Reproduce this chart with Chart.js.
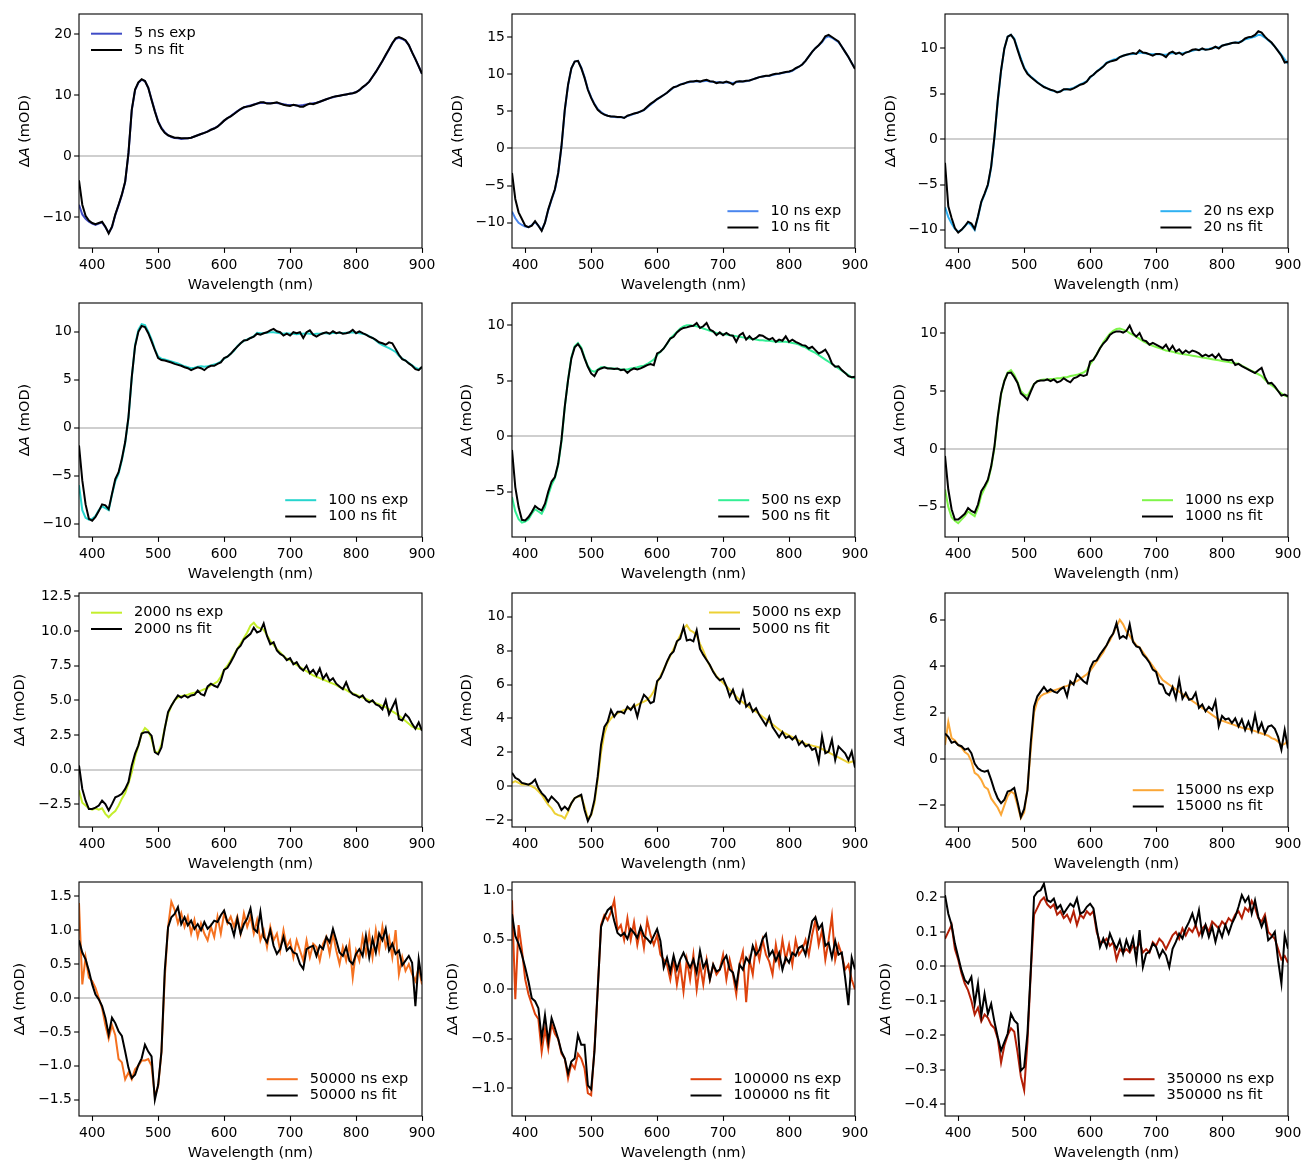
<!DOCTYPE html>
<html>
<head>
<meta charset="utf-8">
<title>Transient absorption spectra</title>
<script src="https://cdn.jsdelivr.net/npm/chart.js@4.4.1/dist/chart.umd.min.js"></script>
<style>
  body { margin: 0; background: #fff; }
  #fig { position: relative; width: 1305px; height: 1163px; overflow: hidden; }
  #fig canvas { position: absolute; }
</style>
</head>
<body>
<div id="fig"></div>
<script>
// Wavelength grid (nm), shared by every panel
const wavelengths = [
  380,385,390,395,400,405,410,415,420,425,
  430,435,440,445,450,455,460,465,470,475,
  480,485,490,495,500,505,510,515,520,525,
  530,535,540,545,550,555,560,565,570,575,
  580,585,590,595,600,605,610,615,620,625,
  630,635,640,645,650,655,660,665,670,675,
  680,685,690,695,700,705,710,715,720,725,
  730,735,740,745,750,755,760,765,770,775,
  780,785,790,795,800,805,810,815,820,825,
  830,835,840,845,850,855,860,865,870,875,
  880,885,890,895,900
];

// Delay times (ns)
const delays = ['5', '10', '20', '100', '500', '1000', '2000', '5000', '15000', '50000', '100000', '350000'];

// ΔA (mOD) values, exp = measured, fit = model
const exp5 = [
  -8.0,-9.6,-10.3,-10.8,-11.1,-11.3,-11.1,-10.9,-11.7,-12.6,
  -11.7,-9.7,-8.1,-6.4,-4.3,0.4,7.5,10.8,12.0,12.5,
  12.3,11.2,9.3,7.4,5.7,4.6,3.9,3.4,3.1,2.95,
  2.9,2.8,2.85,2.9,3.0,3.2,3.4,3.6,3.8,4.05,
  4.3,4.55,4.85,5.3,5.8,6.2,6.55,6.95,7.35,7.7,
  7.95,8.15,8.3,8.45,8.6,8.7,8.75,8.7,8.65,8.7,
  8.7,8.6,8.5,8.4,8.35,8.35,8.3,8.3,8.35,8.45,
  8.55,8.65,8.75,8.9,9.1,9.3,9.5,9.65,9.8,9.9,
  10.0,10.1,10.2,10.3,10.5,10.8,11.25,11.7,12.2,13.0,
  13.8,14.7,15.6,16.5,17.5,18.5,19.2,19.4,19.2,18.9,
  18.2,17.0,15.9,14.7,13.5
];
const fit5 = [
  -4.0,-8.0,-9.8,-10.6,-11.0,-11.2,-11.0,-10.8,-11.6,-12.7,
  -11.6,-9.6,-8.0,-6.3,-4.2,0.5,7.6,10.9,12.1,12.6,
  12.3,11.2,9.2,7.3,5.6,4.5,3.8,3.4,3.2,3.0,
  3.0,2.9,2.9,2.9,3.0,3.2,3.4,3.6,3.8,4.0,
  4.3,4.5,4.8,5.3,5.8,6.2,6.5,6.9,7.3,7.7,
  8.0,8.1,8.2,8.4,8.6,8.8,8.8,8.6,8.6,8.7,
  8.8,8.6,8.4,8.3,8.2,8.4,8.3,8.1,8.1,8.4,
  8.6,8.5,8.7,8.9,9.1,9.3,9.5,9.7,9.8,9.9,
  10.0,10.1,10.2,10.3,10.45,10.8,11.3,11.7,12.2,13.0,
  13.8,14.7,15.6,16.6,17.5,18.5,19.3,19.5,19.3,19.0,
  18.2,17.0,15.9,14.7,13.5
];
const exp10 = [
  -8.5,-9.4,-10.0,-10.3,-10.5,-10.6,-10.3,-9.9,-10.4,-11.0,
  -10.0,-8.3,-6.9,-5.6,-3.4,0.2,5.1,8.5,10.8,11.7,
  11.8,10.9,9.6,8.0,6.9,6.0,5.3,4.9,4.6,4.4,
  4.3,4.25,4.2,4.2,4.15,4.35,4.5,4.65,4.8,4.95,
  5.15,5.5,5.9,6.25,6.6,6.9,7.2,7.5,7.85,8.2,
  8.4,8.6,8.75,8.85,8.95,9.0,9.05,9.0,9.05,9.1,
  9.0,8.95,8.9,8.9,8.85,8.9,8.85,8.8,8.9,9.0,
  9.0,9.05,9.15,9.3,9.45,9.6,9.7,9.75,9.8,9.9,
  10.0,10.05,10.15,10.25,10.3,10.45,10.75,11.0,11.3,11.8,
  12.4,13.0,13.5,13.9,14.3,14.9,15.1,14.9,14.6,14.3,
  13.7,13.0,12.3,11.5,10.8
];
const fit10 = [
  -3.3,-6.8,-8.6,-9.5,-10.4,-10.6,-10.4,-9.8,-10.4,-11.1,
  -10.0,-8.2,-6.8,-5.5,-3.3,0.3,5.2,8.6,10.8,11.7,
  11.8,10.8,9.5,7.9,6.8,5.9,5.2,4.8,4.55,4.4,
  4.3,4.3,4.25,4.25,4.1,4.4,4.55,4.7,4.8,5.0,
  5.2,5.6,6.0,6.3,6.65,6.9,7.2,7.5,7.9,8.25,
  8.35,8.6,8.7,8.9,9.0,9.0,9.1,9.0,9.15,9.25,
  9.05,9.0,8.8,8.9,8.85,9.0,8.85,8.6,9.0,9.05,
  9.0,9.1,9.15,9.3,9.45,9.6,9.7,9.8,9.8,9.95,
  10.05,10.1,10.2,10.3,10.35,10.5,10.8,11.0,11.3,11.8,
  12.4,13.0,13.5,13.9,14.4,15.1,15.3,15.0,14.7,14.4,
  13.7,13.0,12.3,11.5,10.7
];
const exp20 = [
  -7.5,-8.6,-9.3,-9.9,-10.2,-10.0,-9.6,-9.2,-9.5,-10.0,
  -8.6,-7.0,-6.1,-5.1,-3.1,0.2,4.2,7.5,10.0,11.3,
  11.5,11.1,10.0,8.9,7.9,7.3,6.9,6.6,6.3,6.0,
  5.8,5.6,5.4,5.3,5.2,5.3,5.45,5.5,5.55,5.65,
  5.85,6.05,6.2,6.4,6.8,7.1,7.45,7.75,8.05,8.45,
  8.6,8.75,8.85,9.05,9.2,9.3,9.35,9.4,9.45,9.55,
  9.5,9.45,9.4,9.35,9.4,9.35,9.3,9.3,9.4,9.5,
  9.45,9.5,9.45,9.55,9.65,9.75,9.85,9.85,9.95,9.9,
  9.95,10.05,10.1,10.1,10.3,10.4,10.5,10.6,10.65,10.7,
  10.8,11.0,11.1,11.2,11.3,11.5,11.45,11.2,10.9,10.6,
  10.2,9.75,9.3,8.8,8.3
];
const fit20 = [
  -2.6,-7.4,-8.7,-9.8,-10.3,-10.0,-9.6,-9.1,-9.3,-9.9,
  -8.5,-6.9,-6.0,-5.0,-3.0,0.3,4.3,7.6,10.0,11.3,
  11.5,11.0,9.85,8.75,7.8,7.2,6.85,6.55,6.25,6.0,
  5.75,5.6,5.45,5.35,5.15,5.25,5.5,5.5,5.45,5.6,
  5.8,6.0,6.1,6.35,6.85,7.1,7.45,7.7,8.0,8.4,
  8.55,8.65,8.75,9.05,9.2,9.3,9.4,9.5,9.4,9.8,
  9.55,9.5,9.35,9.2,9.4,9.4,9.3,9.05,9.5,9.65,
  9.4,9.55,9.3,9.55,9.65,9.85,9.9,9.8,10.0,9.85,
  9.9,10.0,10.2,10.0,10.3,10.4,10.5,10.6,10.65,10.6,
  10.8,11.1,11.25,11.3,11.5,11.9,11.75,11.3,10.95,10.65,
  10.2,9.7,9.2,8.45,8.55
];
const exp100 = [
  -6.0,-8.6,-9.4,-9.6,-9.5,-9.2,-8.6,-8.2,-8.4,-8.6,
  -7.0,-5.6,-4.8,-3.4,-1.6,1.0,5.2,8.6,10.2,10.8,
  10.7,10.0,9.2,8.2,7.4,7.2,7.1,7.0,6.9,6.8,
  6.7,6.55,6.4,6.3,6.2,6.25,6.35,6.4,6.35,6.4,
  6.5,6.6,6.7,6.9,7.2,7.4,7.7,8.0,8.5,8.8,
  9.05,9.2,9.35,9.55,9.9,9.85,9.85,9.9,9.95,9.95,
  9.9,9.85,9.8,9.85,9.8,9.8,9.75,9.8,9.8,9.85,
  9.8,9.75,9.8,9.8,9.85,9.85,9.8,9.9,9.85,9.9,
  9.85,9.9,9.9,9.95,9.9,9.85,9.8,9.7,9.55,9.35,
  9.1,8.8,8.6,8.45,8.3,8.1,7.9,7.5,7.2,7.0,
  6.75,6.5,6.25,6.1,6.3
];
const fit100 = [
  -1.85,-5.5,-8.0,-9.5,-9.7,-9.3,-8.7,-8.0,-8.1,-8.5,
  -6.9,-5.35,-4.65,-3.25,-1.5,1.1,5.3,8.5,10.0,10.6,
  10.5,9.85,9.0,8.1,7.25,7.05,7.0,6.9,6.8,6.65,
  6.55,6.45,6.3,6.2,6.0,6.15,6.3,6.2,6.0,6.3,
  6.45,6.45,6.65,6.8,7.25,7.4,7.7,8.1,8.45,8.8,
  9.1,9.15,9.35,9.5,9.8,9.7,9.85,9.95,10.15,10.3,
  10.05,9.95,9.6,9.8,9.6,9.95,9.85,9.95,9.35,9.95,
  10.15,9.7,9.5,9.7,9.85,9.95,9.8,10.05,9.85,9.95,
  9.8,9.85,9.95,10.2,9.85,10.05,9.85,9.7,9.5,9.35,
  9.15,8.9,8.8,8.65,8.9,8.8,8.2,7.6,7.15,7.0,
  6.7,6.45,6.1,6.0,6.35
];
const exp500 = [
  -5.5,-6.8,-7.5,-7.8,-7.7,-7.5,-7.0,-6.6,-6.8,-7.0,
  -6.4,-5.3,-4.4,-3.8,-2.6,-0.5,2.6,5.1,7.1,8.1,
  8.4,8.0,7.1,6.3,5.9,5.8,6.0,6.2,6.2,6.15,
  6.1,6.1,6.05,6.0,6.0,6.0,6.1,6.15,6.2,6.3,
  6.35,6.5,6.7,6.9,7.3,7.6,7.9,8.3,8.8,9.1,
  9.4,9.7,9.9,10.0,10.0,9.95,9.9,9.8,9.7,9.6,
  9.5,9.4,9.3,9.25,9.2,9.15,9.1,9.05,9.0,8.95,
  8.9,8.85,8.8,8.75,8.7,8.65,8.65,8.6,8.6,8.55,
  8.5,8.5,8.5,8.5,8.45,8.4,8.35,8.25,8.1,8.0,
  7.8,7.65,7.5,7.3,7.1,6.9,6.7,6.5,6.3,6.1,
  5.9,5.7,5.5,5.3,5.2
];
const fit500 = [
  -1.25,-4.6,-6.4,-7.55,-7.6,-7.3,-6.85,-6.3,-6.55,-6.7,
  -6.1,-5.0,-4.1,-3.7,-2.5,-0.35,2.65,5.05,7.0,8.0,
  8.3,7.85,7.0,6.25,5.65,5.4,5.95,6.1,6.2,6.1,
  6.1,6.05,6.1,5.95,6.0,5.7,5.95,6.1,6.0,6.1,
  6.25,6.4,6.5,6.4,7.45,7.6,7.9,8.35,8.8,8.95,
  9.35,9.6,9.75,9.8,9.9,9.95,10.2,9.75,9.9,10.2,
  9.6,9.45,9.1,9.35,9.1,9.3,9.1,9.05,8.5,9.1,
  9.3,8.7,9.0,8.7,8.85,9.1,9.05,8.85,8.7,8.85,
  8.5,8.7,8.6,9.0,8.5,8.7,8.5,8.35,8.2,8.15,
  7.9,8.05,7.75,7.45,7.6,7.8,7.3,6.55,6.25,6.3,
  5.95,5.7,5.4,5.3,5.35
];
const exp1000 = [
  -3.5,-5.0,-5.9,-6.2,-6.4,-6.1,-5.8,-5.4,-5.6,-5.8,
  -5.1,-4.0,-3.4,-2.8,-1.6,0.1,2.7,4.7,5.9,6.6,
  6.8,6.4,5.8,5.0,4.7,4.6,5.1,5.6,5.85,5.95,
  6.0,6.0,6.05,6.05,6.1,6.1,6.2,6.2,6.3,6.35,
  6.4,6.5,6.6,6.8,7.3,7.7,8.2,8.7,9.2,9.6,
  9.95,10.2,10.35,10.4,10.3,10.2,10.0,9.85,9.7,9.5,
  9.3,9.15,9.0,8.9,8.8,8.7,8.6,8.5,8.45,8.4,
  8.3,8.25,8.2,8.15,8.1,8.05,8.0,7.95,7.9,7.85,
  7.8,7.75,7.7,7.65,7.6,7.55,7.5,7.45,7.4,7.35,
  7.2,7.05,6.9,6.75,6.6,6.45,6.3,6.0,5.7,5.5,
  5.3,5.0,4.8,4.6,4.5
];
const fit1000 = [
  -0.6,-3.5,-5.2,-6.1,-6.1,-5.85,-5.6,-5.1,-5.35,-5.5,
  -4.8,-3.65,-3.2,-2.65,-1.5,0.25,2.8,4.8,5.85,6.55,
  6.6,6.2,5.7,4.8,4.55,4.25,4.95,5.6,5.85,5.9,
  5.9,6.0,5.85,6.0,5.75,5.85,6.1,5.9,5.75,6.1,
  6.2,6.4,6.3,6.4,7.55,7.7,8.15,8.7,9.1,9.4,
  9.85,10.05,10.15,10.15,10.05,10.2,10.65,10.0,9.7,10.0,
  9.4,9.3,9.0,9.15,9.0,8.85,8.7,9.0,8.5,8.9,
  8.4,8.6,8.25,8.5,8.3,8.5,8.4,8.25,8.0,8.15,
  8.0,8.15,7.85,8.2,7.75,7.7,7.65,7.7,7.25,7.35,
  7.15,7.0,6.85,6.7,6.55,6.8,7.0,6.2,5.65,5.7,
  5.4,5.0,4.6,4.7,4.55
];
const exp2000 = [
  -1.5,-2.4,-2.6,-2.8,-2.9,-2.8,-2.9,-2.8,-3.2,-3.45,
  -3.2,-3.0,-2.6,-2.1,-1.7,-1.0,-0.2,0.9,1.7,2.6,
  3.0,2.8,2.2,1.3,1.2,1.8,3.0,4.0,4.6,5.0,
  5.2,5.3,5.35,5.4,5.5,5.55,5.6,5.7,5.8,5.9,
  6.1,6.2,6.35,6.7,7.2,7.5,7.9,8.3,8.7,9.1,
  9.5,9.9,10.4,10.6,10.3,10.2,10.1,9.7,9.3,9.0,
  8.7,8.45,8.2,8.0,7.9,7.7,7.55,7.4,7.25,7.1,
  6.95,6.8,6.7,6.6,6.5,6.4,6.3,6.2,6.1,5.95,
  5.85,5.75,5.6,5.5,5.4,5.3,5.2,5.1,5.0,4.9,
  4.8,4.7,4.6,4.5,4.35,4.2,4.05,3.9,3.7,3.5,
  3.3,3.1,3.0,2.95,2.9
];
const fit2000 = [
  0.3,-1.4,-2.25,-2.85,-2.85,-2.75,-2.6,-2.25,-2.5,-2.95,
  -2.5,-2.0,-1.9,-1.75,-1.4,-0.9,0.3,1.15,1.75,2.6,
  2.7,2.7,2.45,1.25,1.1,1.6,2.95,4.15,4.6,5.0,
  5.35,5.2,5.35,5.2,5.35,5.4,5.7,5.45,5.35,6.0,
  6.2,6.05,5.95,6.4,7.2,7.35,7.75,8.2,8.7,8.95,
  9.4,9.6,9.8,10.25,9.9,10.0,10.55,9.65,9.05,9.2,
  8.6,8.35,8.2,7.9,8.05,7.6,7.75,7.35,7.15,7.5,
  6.95,7.2,6.8,7.3,6.55,6.9,6.4,6.6,6.2,6.0,
  5.8,6.3,5.7,5.45,5.35,5.2,5.35,5.0,4.85,5.0,
  4.7,4.6,4.35,5.0,4.0,4.5,5.0,3.65,3.55,4.0,
  3.75,3.3,2.95,3.4,2.8
];
const exp5000 = [
  0.2,0.3,0.2,0.1,0.1,0.1,0.0,-0.1,-0.3,-0.5,
  -0.8,-1.1,-1.3,-1.6,-1.7,-1.75,-1.9,-1.5,-1.0,-0.7,
  -0.6,-0.6,-1.2,-1.9,-1.7,-1.0,0.4,2.0,3.1,3.7,
  4.0,4.2,4.3,4.4,4.5,4.55,4.6,4.7,4.8,4.9,
  5.0,5.1,5.3,5.6,6.1,6.5,6.9,7.3,7.7,8.1,
  8.5,8.9,9.3,9.5,9.2,9.1,8.9,8.4,8.0,7.5,
  7.1,6.8,6.5,6.3,6.1,5.9,5.7,5.5,5.3,5.1,
  4.95,4.8,4.65,4.5,4.4,4.25,4.1,3.95,3.8,3.65,
  3.5,3.35,3.2,3.1,3.0,2.9,2.8,2.7,2.6,2.5,
  2.45,2.4,2.35,2.3,2.2,2.1,2.0,1.9,1.8,1.7,
  1.6,1.5,1.4,1.45,1.5
];
const fit5000 = [
  0.8,0.5,0.4,0.2,0.15,0.1,0.2,0.4,-0.1,-0.4,
  -0.6,-0.9,-0.6,-0.8,-1.0,-1.4,-1.2,-1.4,-1.0,-0.7,
  -0.6,-0.5,-1.4,-2.05,-1.65,-0.8,0.6,2.45,3.5,3.8,
  4.5,4.1,4.4,4.4,4.3,4.7,4.5,4.8,4.1,4.9,
  5.4,5.2,4.9,5.0,6.2,6.4,6.85,7.35,7.75,7.95,
  8.55,8.7,9.4,8.6,8.65,8.55,9.2,8.1,7.75,7.45,
  7.15,6.75,6.45,6.25,6.35,5.9,5.3,5.7,5.1,4.9,
  5.6,4.7,4.9,4.4,4.6,4.2,3.9,3.6,4.1,3.5,
  3.2,2.9,3.2,2.85,2.95,2.75,2.95,2.45,2.65,2.35,
  2.45,2.15,2.25,1.45,2.95,1.95,2.05,2.75,1.55,2.35,
  2.15,1.95,1.55,2.05,1.1
];
const exp15000 = [
  0.6,1.6,0.9,0.8,0.6,0.5,0.3,0.2,-0.1,-0.6,
  -0.7,-0.9,-1.2,-1.3,-1.7,-1.9,-2.1,-2.4,-2.0,-1.6,
  -1.4,-1.5,-2.0,-2.55,-2.3,-1.3,0.4,2.0,2.5,2.7,
  2.8,2.85,2.9,2.95,3.0,3.05,3.1,3.15,3.2,3.3,
  3.35,3.45,3.55,3.65,3.8,4.0,4.2,4.4,4.6,4.9,
  5.1,5.4,5.7,6.0,5.8,5.5,5.3,5.1,4.9,4.8,
  4.6,4.4,4.2,4.0,3.8,3.6,3.4,3.3,3.2,3.1,
  3.0,2.9,2.8,2.7,2.6,2.5,2.4,2.3,2.2,2.1,
  2.0,1.9,1.8,1.7,1.65,1.6,1.55,1.5,1.45,1.4,
  1.35,1.3,1.3,1.25,1.2,1.15,1.1,1.05,1.0,0.9,
  0.85,0.75,0.6,0.65,0.8
];
const fit15000 = [
  1.1,0.95,0.7,0.75,0.6,0.55,0.4,0.45,0.25,-0.2,
  -0.4,-0.5,-0.55,-0.5,-0.9,-1.35,-1.7,-1.9,-1.75,-1.4,
  -1.35,-1.25,-1.85,-2.5,-2.15,-1.35,0.7,2.25,2.7,2.9,
  3.1,2.9,3.0,2.9,2.85,3.0,3.1,2.7,3.35,3.2,
  3.65,3.5,3.35,3.25,3.9,4.2,4.25,4.5,4.7,4.9,
  5.2,5.4,5.85,5.2,5.3,5.2,5.8,5.05,4.85,4.8,
  4.5,4.35,4.15,3.85,3.75,3.25,3.2,2.85,2.75,3.1,
  2.6,3.4,2.6,2.85,2.55,2.6,2.85,2.2,2.35,2.05,
  2.25,2.1,2.5,1.4,1.85,1.7,1.75,1.55,1.75,1.4,
  1.7,1.25,1.6,1.2,1.9,1.2,1.55,1.1,1.4,1.45,
  1.3,0.95,0.4,1.25,0.45
];
const exp50000 = [
  1.4,0.2,0.6,0.3,0.25,0.15,0.0,-0.15,-0.4,-0.6,
  -0.4,-0.55,-0.9,-0.95,-1.2,-1.1,-1.2,-1.05,-1.0,-0.92,
  -0.92,-0.9,-1.0,-1.45,-1.3,-0.8,0.3,1.05,1.42,1.3,
  1.1,1.25,1.05,1.2,0.95,1.15,0.9,1.1,0.95,0.85,
  1.05,0.9,1.2,0.95,1.25,1.1,1.2,1.05,1.2,0.95,
  1.25,1.05,1.2,0.95,1.15,0.85,1.0,0.75,1.05,0.85,
  0.95,0.7,1.0,0.75,0.85,0.6,0.85,0.7,0.55,0.85,
  0.6,0.8,0.75,0.55,0.8,0.9,0.65,0.95,0.7,0.5,
  0.75,0.55,0.8,0.3,0.7,0.55,0.9,0.65,0.95,0.6,
  1.0,0.7,1.05,0.75,0.9,0.6,1.0,0.35,0.6,0.4,
  0.5,0.35,0.25,0.45,0.2
];
const fit50000 = [
  0.85,0.67,0.57,0.4,0.2,0.05,-0.02,-0.12,-0.29,-0.54,
  -0.29,-0.37,-0.49,-0.56,-0.79,-1.03,-1.18,-1.13,-0.99,-0.89,
  -0.69,-0.79,-0.86,-1.5,-1.28,-0.79,0.4,1.04,1.19,1.24,
  1.34,1.09,1.19,1.07,1.14,1.02,1.09,1.0,1.12,1.02,
  1.07,1.14,1.12,1.22,1.29,1.12,1.09,0.92,1.17,0.95,
  1.09,1.17,1.32,1.02,0.97,1.27,0.9,0.82,1.0,0.77,
  0.65,0.72,0.9,0.7,0.75,0.67,0.65,0.5,0.43,0.72,
  0.75,0.77,0.62,0.77,0.72,0.9,0.82,1.02,0.85,0.67,
  0.62,0.75,0.55,0.5,0.65,0.72,0.62,0.92,0.6,0.87,
  0.67,0.95,0.85,1.02,0.7,0.8,0.65,0.7,0.48,0.55,
  0.62,0.52,-0.12,0.57,0.25
];
const exp100000 = [
  0.9,-0.1,0.65,0.4,0.1,-0.05,-0.15,-0.25,-0.3,-0.63,
  -0.4,-0.6,-0.35,-0.45,-0.5,-0.65,-0.7,-0.9,-0.75,-0.8,
  -0.65,-0.7,-0.8,-1.05,-1.07,-0.6,0.0,0.65,0.75,0.7,
  0.78,0.9,0.6,0.65,0.5,0.72,0.5,0.68,0.45,0.62,
  0.42,0.7,0.55,0.45,0.55,0.35,0.3,0.25,0.1,0.3,
  0.05,0.25,-0.02,0.3,0.1,0.35,0.0,0.25,0.05,0.3,
  0.1,0.25,0.15,0.2,0.35,0.1,0.3,0.15,-0.05,0.25,
  0.38,-0.13,0.3,0.15,0.45,0.3,0.5,0.35,0.28,0.15,
  0.45,0.25,0.5,0.3,0.45,0.25,0.5,0.35,0.4,0.5,
  0.35,0.55,0.7,0.45,0.6,0.3,0.5,0.74,0.3,0.45,
  0.35,0.2,0.25,0.1,0.0
];
const fit100000 = [
  0.76,0.54,0.46,0.35,0.22,0.08,-0.09,-0.12,-0.19,-0.5,
  -0.26,-0.53,-0.29,-0.39,-0.5,-0.63,-0.7,-0.85,-0.73,-0.7,
  -0.46,-0.56,-0.56,-0.97,-1.01,-0.63,0.01,0.63,0.73,0.8,
  0.83,0.69,0.57,0.54,0.57,0.51,0.61,0.57,0.52,0.63,
  0.54,0.51,0.47,0.54,0.61,0.49,0.22,0.32,0.18,0.34,
  0.2,0.3,0.37,0.29,0.22,0.3,0.17,0.39,0.22,0.29,
  0.1,0.25,0.18,0.2,0.29,0.34,0.2,0.17,0.03,0.25,
  0.2,0.32,0.27,0.44,0.35,0.4,0.51,0.56,0.34,0.39,
  0.29,0.37,0.2,0.32,0.27,0.37,0.34,0.42,0.44,0.35,
  0.52,0.69,0.73,0.61,0.66,0.44,0.47,0.32,0.49,0.35,
  0.37,0.12,-0.16,0.32,0.2
];
const exp350000 = [
  0.08,0.1,0.12,0.05,0.02,-0.02,-0.05,-0.07,-0.1,-0.14,
  -0.12,-0.16,-0.14,-0.15,-0.17,-0.18,-0.21,-0.28,-0.23,-0.2,
  -0.18,-0.19,-0.25,-0.32,-0.36,-0.22,-0.02,0.15,0.17,0.19,
  0.2,0.18,0.17,0.18,0.15,0.16,0.14,0.15,0.13,0.16,
  0.12,0.15,0.14,0.16,0.15,0.16,0.1,0.07,0.07,0.08,
  0.06,0.07,0.02,0.05,0.04,0.05,0.04,0.06,0.05,0.07,
  0.04,0.05,0.04,0.07,0.06,0.08,0.07,0.05,0.07,0.09,
  0.1,0.08,0.11,0.09,0.11,0.1,0.12,0.09,0.11,0.12,
  0.1,0.13,0.12,0.11,0.13,0.12,0.14,0.13,0.15,0.16,
  0.14,0.17,0.16,0.19,0.17,0.14,0.13,0.15,0.1,0.09,
  0.08,0.05,0.02,0.03,0.01
];
const fit350000 = [
  0.207,0.153,0.12,0.066,0.027,-0.012,-0.04,-0.05,-0.031,-0.109,
  -0.05,-0.143,-0.08,-0.138,-0.109,-0.162,-0.206,-0.245,-0.22,-0.196,
  -0.138,-0.157,-0.167,-0.303,-0.293,-0.196,-0.012,0.202,0.216,0.221,
  0.24,0.192,0.187,0.197,0.168,0.178,0.153,0.168,0.182,0.173,
  0.197,0.153,0.158,0.173,0.182,0.168,0.11,0.056,0.081,0.056,
  0.095,0.071,0.051,0.076,0.037,0.076,0.047,0.081,0.017,0.105,
  -0.002,0.037,0.042,0.066,0.056,0.027,0.047,0.032,-0.002,0.051,
  0.071,0.095,0.081,0.11,0.129,0.153,0.12,0.163,0.09,0.12,
  0.085,0.115,0.071,0.11,0.085,0.12,0.095,0.124,0.144,0.173,
  0.207,0.187,0.202,0.153,0.192,0.144,0.115,0.139,0.076,0.085,
  0.1,0.017,-0.05,0.09,0.051
];

// Tick values
const xTicks = [400, 500, 600, 700, 800, 900];
const yTicks5 = [-10, 0, 10, 20];
const yTicks10 = [-10, -5, 0, 5, 10, 15];
const yTicks20 = [-10, -5, 0, 5, 10];
const yTicks100 = [-10, -5, 0, 5, 10];
const yTicks500 = [-5, 0, 5, 10];
const yTicks1000 = [-5, 0, 5, 10];
const yTicks2000 = [-2.5, 0, 2.5, 5, 7.5, 10, 12.5];
const yTicks5000 = [-2, 0, 2, 4, 6, 8, 10];
const yTicks15000 = [-2, 0, 2, 4, 6];
const yTicks50000 = [-1.5, -1, -0.5, 0, 0.5, 1, 1.5];
const yTicks100000 = [-1, -0.5, 0, 0.5, 1];
const yTicks350000 = [-0.4, -0.3, -0.2, -0.1, 0, 0.1, 0.2];

// Panel setup (axis limits, legend corner, colour)
const panels = [
  { exp: exp5,      fit: fit5,      yMin: -15.1, yMax: 23.3,  ticks: yTicks5,      dec: 0, leg: 'ul', color: '#3f4cc6' },
  { exp: exp10,     fit: fit10,     yMin: -13.4, yMax: 18.1,  ticks: yTicks10,     dec: 0, leg: 'lr', color: '#4a86ee' },
  { exp: exp20,     fit: fit20,     yMin: -12.0, yMax: 13.8,  ticks: yTicks20,     dec: 0, leg: 'lr', color: '#2fb1f2' },
  { exp: exp100,    fit: fit100,    yMin: -11.4, yMax: 13.0,  ticks: yTicks100,    dec: 0, leg: 'lr', color: '#27d5ce' },
  { exp: exp500,    fit: fit500,    yMin: -9.1,  yMax: 12.0,  ticks: yTicks500,    dec: 0, leg: 'lr', color: '#34ef95' },
  { exp: exp1000,   fit: fit1000,   yMin: -7.6,  yMax: 12.6,  ticks: yTicks1000,   dec: 0, leg: 'lr', color: '#7ff54a' },
  { exp: exp2000,   fit: fit2000,   yMin: -4.15, yMax: 12.75, ticks: yTicks2000,   dec: 1, leg: 'ul', color: '#c4ee2c' },
  { exp: exp5000,   fit: fit5000,   yMin: -2.4,  yMax: 11.4,  ticks: yTicks5000,   dec: 0, leg: 'ur', color: '#ecd135' },
  { exp: exp15000,  fit: fit15000,  yMin: -2.93, yMax: 7.15,  ticks: yTicks15000,  dec: 0, leg: 'lr', color: '#fba737' },
  { exp: exp50000,  fit: fit50000,  yMin: -1.74, yMax: 1.71,  ticks: yTicks50000,  dec: 1, leg: 'lr', color: '#f57120' },
  { exp: exp100000, fit: fit100000, yMin: -1.28, yMax: 1.085, ticks: yTicks100000, dec: 1, leg: 'lr', color: '#de420c' },
  { exp: exp350000, fit: fit350000, yMin: -0.435, yMax: 0.245, ticks: yTicks350000, dec: 1, leg: 'lr', color: '#b31f06' }
];

Chart.defaults.font.family = "'DejaVu Sans', sans-serif";
Chart.defaults.color = '#000';

const FONT = "'DejaVu Sans', sans-serif";
const TICK_SIZE = 13.9, LABEL_SIZE = 14.5;
const TICK_LEN = 4.9, Y_PAD = 2.2, X_PAD = 3.8;
const PAD_L = 75, PAD_T = 12, PAD_R = 18, PAD_B = 46;
const PLOT_W = 343, PLOT_H = 234;
const colLeft = [79, 512, 945];
const rowTop = [14, 303, 593, 882];

function fmt(v, dec) {
    return v.toFixed(dec).replace('-', '\u2212');
}

// frame, legend and y-title, drawn on top of the lines
const panelDecor = {
    id: 'panelDecor',
    afterDatasetsDraw(chart, args, opts) {
        const ctx = chart.ctx;
        const a = chart.chartArea;
        ctx.save();

        // axes box
        ctx.strokeStyle = '#000';
        ctx.lineWidth = 1.1;
        ctx.strokeRect(a.left, a.top, a.right - a.left, a.bottom - a.top);

        // legend
        ctx.font = LABEL_SIZE + 'px ' + FONT;
        ctx.textBaseline = 'middle';
        ctx.textAlign = 'left';
        const labels = [opts.delay + ' ns exp', opts.delay + ' ns fit'];
        const tw = Math.max(...labels.map(t => ctx.measureText(t).width));
        let x0, y0;
        if (opts.leg === 'ul') {
            x0 = a.left + 12;
            y0 = a.top + 19.7;
        } else if (opts.leg === 'ur') {
            x0 = a.right - 13.7 - tw - 12 - 31;
            y0 = a.top + 19.5;
        } else {
            x0 = a.right - 13.7 - tw - 12 - 31;
            y0 = a.bottom - 36.8;
        }
        const cols = [opts.color, '#000'];
        labels.forEach((t, i) => {
            const y = y0 + i * 16.3;
            ctx.strokeStyle = cols[i];
            ctx.lineWidth = 2;
            ctx.beginPath();
            ctx.moveTo(x0, y);
            ctx.lineTo(x0 + 31, y);
            ctx.stroke();
            ctx.fillStyle = '#000';
            ctx.fillText(t, x0 + 31 + 12, y);
        });

        // y-axis title: ΔA (mOD) with italic A
        const ys = chart.scales.y;
        ctx.font = TICK_SIZE + 'px ' + FONT;
        const maxW = Math.max(...ys.ticks.map(t => ctx.measureText(t.label).width));
        const cx = a.left - TICK_LEN - Y_PAD - maxW - 17.5;
        const cy = (a.top + a.bottom) / 2;
        const parts = [
            ['\u0394', LABEL_SIZE + 'px ' + FONT],
            ['A', 'italic ' + LABEL_SIZE + 'px ' + FONT],
            [' (mOD)', LABEL_SIZE + 'px ' + FONT]
        ];
        let total = 0;
        parts.forEach(p => { ctx.font = p[1]; total += ctx.measureText(p[0]).width; });
        ctx.translate(cx, cy);
        ctx.rotate(-Math.PI / 2);
        let px = -total / 2;
        parts.forEach(p => {
            ctx.font = p[1];
            ctx.fillText(p[0], px, 0);
            px += ctx.measureText(p[0]).width;
        });
        ctx.restore();
    }
};

function renderPanel(p, i) {
    const col = i % 3, row = Math.floor(i / 3);
    const canvas = document.createElement('canvas');
    canvas.width = PAD_L + PLOT_W + PAD_R;
    canvas.height = PAD_T + PLOT_H + PAD_B;
    canvas.style.left = (colLeft[col] - PAD_L) + 'px';
    canvas.style.top = (rowTop[row] - PAD_T) + 'px';
    document.getElementById('fig').appendChild(canvas);

    const toXY = vals => wavelengths.map((w, k) => ({ x: w, y: vals[k] }));

    new Chart(canvas.getContext('2d'), {
        type: 'line',
        data: {
            datasets: [
                {
                    label: delays[i] + ' ns fit',
                    data: toXY(p.fit),
                    borderColor: '#000',
                    borderWidth: 2,
                    pointRadius: 0,
                    tension: 0,
                    order: 0
                },
                {
                    label: delays[i] + ' ns exp',
                    data: toXY(p.exp),
                    borderColor: p.color,
                    borderWidth: 2,
                    pointRadius: 0,
                    tension: 0,
                    order: 1
                }
            ]
        },
        options: {
            responsive: false,
            animation: false,
            events: [],
            layout: { padding: { left: 0, top: PAD_T, right: PAD_R, bottom: 0 } },
            plugins: {
                legend: { display: false },
                tooltip: { enabled: false },
                panelDecor: { leg: p.leg, color: p.color, delay: delays[i] }
            },
            scales: {
                x: {
                    type: 'linear',
                    min: 380,
                    max: 900,
                    afterBuildTicks: axis => { axis.ticks = xTicks.map(v => ({ value: v })); },
                    afterFit: axis => { axis.height = PAD_B; },
                    ticks: {
                        autoSkip: false,
                        maxRotation: 0,
                        padding: X_PAD,
                        font: { size: TICK_SIZE },
                        color: '#000',
                        callback: v => String(v)
                    },
                    grid: {
                        drawOnChartArea: false,
                        tickLength: TICK_LEN,
                        tickColor: '#000',
                        tickWidth: 1.1
                    },
                    border: { display: false },
                    title: {
                        display: true,
                        text: 'Wavelength (nm)',
                        font: { size: LABEL_SIZE },
                        color: '#000',
                        padding: { top: 0, bottom: 0 }
                    }
                },
                y: {
                    type: 'linear',
                    min: p.yMin,
                    max: p.yMax,
                    afterBuildTicks: axis => { axis.ticks = p.ticks.map(v => ({ value: v })); },
                    afterFit: axis => { axis.width = PAD_L; },
                    ticks: {
                        autoSkip: false,
                        padding: Y_PAD,
                        font: { size: TICK_SIZE },
                        color: '#000',
                        callback: v => fmt(v, p.dec)
                    },
                    grid: {
                        // only the zero line is drawn inside the axes
                        color: c => (c.tick && c.tick.value === 0) ? '#cfcfcf' : 'rgba(0,0,0,0)',
                        lineWidth: 2,
                        tickLength: TICK_LEN,
                        tickColor: '#000',
                        tickWidth: 1.1
                    },
                    border: { display: false }
                }
            }
        },
        plugins: [panelDecor]
    });
}

panels.forEach(renderPanel);
</script>
</body>
</html>
